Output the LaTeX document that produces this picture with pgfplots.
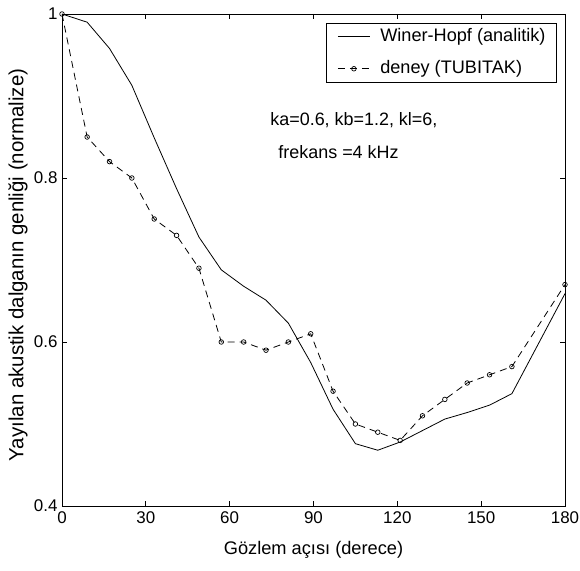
\documentclass[border=0pt]{standalone}
\usepackage{fontspec}
\setmainfont{Liberation Sans}
\usepackage{pgfplots}
\pgfplotsset{compat=1.18}
\newcommand{\fa}{\fontsize{18}{21}\selectfont}
\newcommand{\fl}{\fontsize{18.2}{22}\selectfont}
\newcommand{\ft}{\fontsize{17}{20}\selectfont}
\newcommand{\fx}{\fontsize{18.3}{22}\selectfont}
\newcommand{\fy}{\fontsize{20.5}{24}\selectfont}
\begin{document}
\begin{tikzpicture}[x=1bp,y=1bp]
\useasboundingbox (-62bp,-65bp) rectangle (518bp,506bp);
\begin{axis}[
  at={(0bp,0bp)}, anchor=south west,
  scale only axis, width=503bp, height=492bp,
  xmin=0, xmax=180, ymin=0.4, ymax=1,
  xtick={0,30,60,90,120,150,180},
  ytick={0.4,0.6,0.8,1},
  yticklabels={0.4,0.6,0.8,1},
  tick align=inside, major tick length=5bp,
  tick style={black, line width=0.8bp},
  axis line style={line width=0.8bp},
  /pgf/number format/assume math mode=true,
  tick label style={font=\ft},
  xticklabel style={yshift=-2bp},
  yticklabel style={xshift=-1bp},
  xlabel={Gözlem açısı (derece)},
  ylabel={Yayılan akustik dalganın genliği (normalize)},
  xlabel style={font=\fx, at={(axis description cs:0.5,-0.089)}, anchor=center},
  ylabel style={font=\fy, at={(axis description cs:-0.0875,0.49)}, anchor=center},
  legend style={at={(0.984,0.982)}, anchor=north east, draw=black, line width=0.8bp,
     font=\fl, inner xsep=11bp, inner ysep=5bp, row sep=15bp,
     nodes={inner sep=0pt, text height=13bp, text depth=4bp},
     /tikz/every odd column/.append style={column sep=10bp},
     cells={anchor=west}},
  legend image code/.code={\draw[mark repeat=2,mark phase=2,#1] plot coordinates {(0bp,0bp) (16bp,0bp) (32bp,0bp)};},
]
\addplot[black, line width=0.8bp, mark=none] coordinates {
(0,1.0) (9,0.990) (17,0.958) (25,0.913) (33,0.849) (41,0.787) (49,0.728)
(57,0.688) (65,0.668) (73,0.651) (81,0.623) (89,0.575) (97,0.518)
(105,0.476) (113,0.468) (121,0.478) (129,0.492) (137,0.506) (145,0.514)
(153,0.523) (161,0.537) (180,0.659)
};
\addlegendentry{Winer-Hopf (analitik)}
\addplot[black, line width=0.8bp, dash pattern=on 7bp off 5bp, mark=o, mark size=2.3bp, mark options={solid, line width=0.7bp}] coordinates {
(0,1.0) (9,0.85) (17,0.82) (25,0.80) (33,0.75) (41,0.73) (49,0.69)
(57,0.60) (65,0.60) (73,0.59) (81,0.60) (89,0.61) (97,0.54)
(105,0.50) (113,0.49) (121,0.48) (129,0.51) (137,0.53) (145,0.55)
(153,0.56) (161,0.57) (180,0.67)
};
\addlegendentry{deney (TUBITAK)}
\node[anchor=west, inner sep=0pt, font=\fa] at (axis cs:74.5,0.871) {ka=0.6, kb=1.2, kl=6,};
\node[anchor=west, inner sep=0pt, font=\fa] at (axis cs:77.4,0.832) {frekans =4 kHz};
\end{axis}
\end{tikzpicture}
\end{document}
